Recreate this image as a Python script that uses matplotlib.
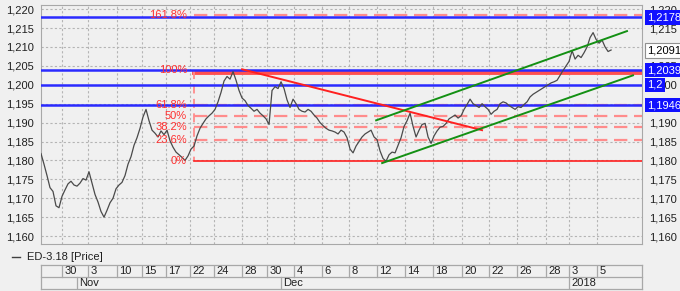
import numpy as np
import matplotlib
matplotlib.use("Agg")
import matplotlib.pyplot as plt
import matplotlib.transforms as mtransforms
from matplotlib.lines import Line2D
from matplotlib.ticker import FuncFormatter

plt.rcParams["font.family"] = ["Liberation Sans", "DejaVu Sans"]

# ED-3.18 price, one value every few bars
price = [
    1.1818, 1.1790, 1.1760, 1.1728, 1.1718, 1.1680, 1.1675, 1.1705, 1.1722, 1.1738,
    1.1745, 1.1735, 1.1732, 1.1740, 1.1752, 1.1748, 1.1770, 1.1740, 1.1710, 1.1690,
    1.1665, 1.1650, 1.1668, 1.1688, 1.1700, 1.1725, 1.1735, 1.1742, 1.1760, 1.1790,
    1.1810, 1.1840, 1.1860, 1.1885, 1.1915, 1.1935, 1.1905, 1.1880, 1.1872, 1.1862,
    1.1878, 1.1868, 1.1880, 1.1852, 1.1835, 1.1822, 1.1815, 1.1808, 1.1800, 1.1812,
    1.1830, 1.1838, 1.1865, 1.1885, 1.1898, 1.1910, 1.1918, 1.1925, 1.1935, 1.1955,
    1.1980, 1.2010, 1.2022, 1.2015, 1.2035, 1.2012, 1.1985, 1.1965, 1.1958, 1.1945,
    1.1938, 1.1930, 1.1935, 1.1925, 1.1918, 1.1910, 1.1895, 1.1985, 1.1995, 1.1990,
    1.2008, 1.1990, 1.1960, 1.1940, 1.1962, 1.1950, 1.1935, 1.1930, 1.1928, 1.1935,
    1.1930, 1.1920, 1.1912, 1.1900, 1.1892, 1.1885, 1.1880, 1.1878, 1.1875, 1.1870,
    1.1880, 1.1875, 1.1860, 1.1830, 1.1820, 1.1838, 1.1850, 1.1862, 1.1870, 1.1875,
    1.1880, 1.1862, 1.1855, 1.1825, 1.1805, 1.1798, 1.1815, 1.1822, 1.1820, 1.1840,
    1.1860, 1.1890, 1.1905, 1.1925, 1.1890, 1.1862, 1.1880, 1.1895, 1.1898, 1.1862,
    1.1845, 1.1865, 1.1878, 1.1888, 1.1890, 1.1898, 1.1910, 1.1915, 1.1920, 1.1912,
    1.1918, 1.1935, 1.1948, 1.1962, 1.1950, 1.1945, 1.1940, 1.1950, 1.1942, 1.1935,
    1.1922, 1.1930, 1.1935, 1.1950, 1.1955, 1.1952, 1.1945, 1.1940, 1.1935, 1.1942,
    1.1940, 1.1948, 1.1955, 1.1968, 1.1975, 1.1980, 1.1985, 1.1990, 1.1995, 1.2000,
    1.2005, 1.2008, 1.2012, 1.2025, 1.2038, 1.2050, 1.2062, 1.2090, 1.2068, 1.2078,
    1.2072, 1.2085, 1.2100, 1.2125, 1.2138, 1.2120, 1.2110, 1.2118, 1.2100, 1.2088,
    1.2092,
]

day_ticks = [7, 15.7, 25.3, 33.7, 41.7, 49.7, 57.7, 67, 75.3, 84.3, 93.7,
             102.7, 112, 121.3, 130.7, 140.3, 149.3, 158.7, 168.3, 176, 185.3]
day_labels = ["30", "3", "10", "15", "17", "22", "24", "28", "30", "4", "6",
              "8", "12", "14", "18", "20", "22", "26", "28", "3", "5"]
month_ticks = [12, 80, 176]
month_labels = ["Nov", "Dec", "2018"]

blue_levels = [1.2178, 1.2039, 1.2000, 1.1946]
fib_levels = [1.2185, 1.2039, 1.1946, 1.1917, 1.1888, 1.1853, 1.1798]
fib_labels = ["161.8%", "100%", "61.8%", "50%", "38.2%", "23.6%", "0%"]
fib_start = 51

red_trend_x = [67, 147]
red_trend_y = [1.2041, 1.1880]
green_low_x = [113.7, 197.3]
green_low_y = [1.1793, 1.2025]
green_up_x = [111.7, 195.3]
green_up_y = [1.1906, 1.2142]

tags = [("1,2178", 1.2178), ("1,2091", 1.2091), ("1,2039", 1.2039),
        ("1,2", 1.2000), ("1,1946", 1.1946)]
hidden_right = [1.210, 1.195]   # right-hand tick labels covered by price tags

W, H = 680, 291
bg = "#f0f0f0"
fs = 8
x_max = 200.3
fig = plt.figure(figsize=(W / 100, H / 100), dpi=100, facecolor=bg)
ax = fig.add_axes([41 / W, 1 - 244 / H, 601 / W, 239 / H], facecolor=bg)

x = np.arange(len(price))
ax.plot(x, price, color="#4a4a4a", lw=0.9, zorder=4)

blue = "#2a2aff"
lred = "#ff8c8c"
for lv in blue_levels:
    ax.axhline(lv, color=blue, lw=1.8, zorder=3)

down = mtransforms.offset_copy(ax.transData, fig=fig, y=-2, units="dots")
for lv, lab in zip(fib_levels, fib_labels):
    if lab == "100%":
        ax.plot([fib_start, x_max], [lv, lv], color="#ff5050", lw=3.5,
                zorder=2, transform=down)
    elif lab == "0%":
        ax.plot([fib_start, x_max], [lv, lv], color="#ff2020", lw=1.2, zorder=3)
    else:
        ax.plot([fib_start, x_max], [lv, lv], color=lred, lw=1.6,
                dashes=(6, 3), zorder=2)
    ax.text(fib_start - 2.3, lv, lab, color="#ff3030", fontsize=fs,
            ha="right", va="center", zorder=5)
ax.plot([fib_start, fib_start], [fib_levels[1], fib_levels[-1]], color=lred,
        lw=1.3, dashes=(5, 3), zorder=2)

ax.plot(red_trend_x, red_trend_y, color="#ff2020", lw=1.4, zorder=5)
ax.plot(green_low_x, green_low_y, color="#139013", lw=1.4, zorder=5)
ax.plot(green_up_x, green_up_y, color="#139013", lw=1.4, zorder=5)

ax.set_xlim(0, x_max)
ax.set_ylim(1.1579, 1.2211)
ax.set_yticks(np.arange(1.160, 1.2201, 0.005))
ax.set_xticks(day_ticks)
ax.set_xticklabels([])
ax.yaxis.set_major_formatter(FuncFormatter(lambda v, p: f"{v:.3f}".replace(".", ",")))
ax.tick_params(length=0, labelsize=fs, labelleft=True, labelright=True, pad=5,
               colors="#202020")
ax.grid(True, color="#b4b4b4", lw=0.8, ls=(0, (2, 2)))
ax.set_axisbelow(True)
for s in ax.spines.values():
    s.set_color("#a8a8a8")
    s.set_linewidth(0.8)

fig.canvas.draw()
for tk in ax.yaxis.get_major_ticks():
    if any(abs(tk.get_loc() - h) < 1e-6 for h in hidden_right):
        tk.label2.set_visible(False)

ytr = ax.get_yaxis_transform()
for txt, lv in tags:
    if txt == "1,2091":
        ax.text(1.009, lv, txt, transform=ytr, fontsize=fs, color="black",
                va="center", ha="left", clip_on=False, zorder=6,
                bbox=dict(boxstyle="square,pad=0.2", fc="white", ec="#909090", lw=0.8))
    else:
        ax.text(1.009, lv, txt, transform=ytr, fontsize=fs, color="white",
                va="center", ha="left", clip_on=False, zorder=6,
                bbox=dict(boxstyle="square,pad=0.2", fc="#1010ff", ec="none"))

# legend row
ly = 1 - 257 / H
fig.add_artist(Line2D([12 / W, 20 / W], [ly, ly], color="#404040", lw=1))
fig.text(27 / W, ly, "ED-3.18 [Price]", fontsize=fs, va="center", color="#202020")

# date table
tax = fig.add_axes([41 / W, 1 - 289 / H, 601 / W, 24 / H], facecolor=bg)
tax.set_xlim(0, x_max)
tax.set_ylim(0, 2)
tax.axis("off")
lc = "#a8a8a8"
for yy in [0, 1, 2]:
    tax.plot([0, x_max], [yy, yy], color=lc, lw=0.9, clip_on=False)
for xx in [0, x_max]:
    tax.plot([xx, xx], [0, 2], color=lc, lw=0.9, clip_on=False)
for xx, lab in zip(day_ticks, day_labels):
    tax.plot([xx, xx], [1, 2], color=lc, lw=0.9)
    tax.text(xx + 0.8, 1.5, lab, fontsize=fs, va="center", ha="left", color="#202020")
for xx, lab in zip(month_ticks, month_labels):
    tax.plot([xx, xx], [0, 1], color=lc, lw=0.9)
    tax.text(xx + 0.8, 0.5, lab, fontsize=fs, va="center", ha="left", color="#202020")

fig.savefig("out.png", dpi=100, facecolor=bg)
